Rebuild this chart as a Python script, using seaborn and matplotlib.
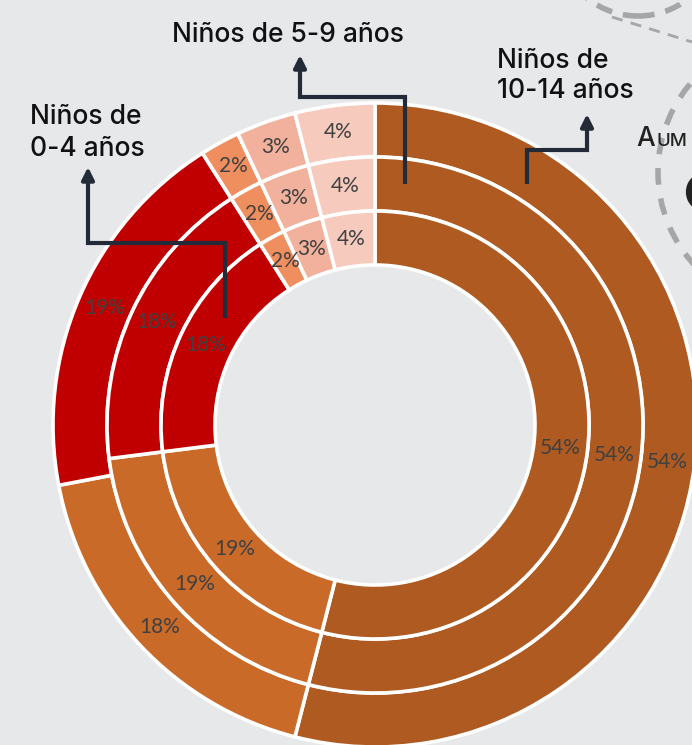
import matplotlib
matplotlib.use("Agg")
import matplotlib.pyplot as plt
import seaborn as sns
from matplotlib.patches import Circle, Arc

# ring values, clockwise from 12 o'clock
groups = ["Niños de 0-4 años", "Niños de 5-9 años", "Niños de 10-14 años"]
inner_vals = [54, 19, 18, 2, 3, 4]    # 0-4
middle_vals = [54, 19, 18, 2, 3, 4]   # 5-9
outer_vals = [54, 18, 19, 2, 3, 4]    # 10-14
seg_colors = ["#ae5a21", "#c96a29", "#c00000", "#ef8f60", "#f2b19c", "#f6cbbd"]

bg = "#e7e8ea"
dark = "#232b38"
W, H = 692, 745

sns.set_theme(style="white", rc={"axes.facecolor": bg, "figure.facecolor": bg})
palette = sns.color_palette(seg_colors)

fig = plt.figure(figsize=(W / 100, H / 100), dpi=100)
ax = fig.add_axes([0, 0, 1, 1])
ax.set_xlim(0, W)
ax.set_ylim(0, H)
ax.set_aspect("equal")
ax.axis("off")

def py(y):
    # pixel row -> data y
    return H - y

cx, cy = 375, py(425)
ring_w = 54
radii = [322, 268, 214]
for vals, r in zip([outer_vals, middle_vals, inner_vals], radii):
    ax.pie(
        vals, colors=palette, radius=r, center=(cx, cy), startangle=90,
        counterclock=False, autopct=lambda p: f"{p:.0f}%",
        pctdistance=(r - ring_w / 2) / r,
        wedgeprops=dict(width=ring_w, edgecolor="white", linewidth=2.6),
        textprops=dict(color="#404040", fontsize=15, family="Lato"))
ax.set_xlim(0, W)
ax.set_ylim(0, H)

# leader arrows
def leader(pts):
    xs = [p[0] for p in pts[:-1]]
    ys = [py(p[1]) for p in pts[:-1]]
    ax.plot(xs, ys, color=dark, lw=3, solid_joinstyle="miter", solid_capstyle="butt")
    ax.annotate("", xy=(pts[-1][0], py(pts[-1][1])), xytext=(pts[-2][0], py(pts[-2][1])),
                arrowprops=dict(arrowstyle="-|>", color=dark, lw=3, mutation_scale=18,
                                shrinkA=0, shrinkB=0))

leader([(405, 184), (405, 97), (300, 97), (300, 70), (300, 55)])
leader([(527, 184), (527, 150), (587, 150), (587, 130), (587, 114)])
leader([(225, 318), (225, 243), (88, 243), (88, 180), (88, 167)])

tfont = dict(family="Inter", fontsize=19, fontweight=500, color="#111111",
             va="center", ha="left")
ax.text(172, py(35), groups[1], **tfont)
ax.text(497, py(76), "Niños de\n10-14 años", linespacing=1.25, **tfont)
ax.text(30, py(133), "Niños de\n0-4 años", linespacing=1.25, **tfont)

# decorations at the right edge
gray = "#a6a6a6"
ax.add_patch(Circle((638, py(-66)), 82, fill=False, ec=gray, lw=4, ls=(0, (3, 2))))
ax.add_patch(Circle((795, py(172)), 137, fill=False, ec=gray, lw=4, ls=(0, (3, 2.5))))
ax.plot([612, 692], [py(17), py(42)], color=gray, lw=2, ls=(0, (4, 3)))
ax.text(636, py(146), "A", family="Inter", fontsize=19, fontweight=500,
        color="#222222", va="baseline")
ax.text(657, py(146), "UM", family="Inter", fontsize=13.5, fontweight=500,
        color="#222222", va="baseline")
ax.add_patch(Arc((706, py(192)), 34, 34, theta1=130, theta2=230, color="#222222", lw=4.5))

fig.savefig("out.png", dpi=100, facecolor=bg)
